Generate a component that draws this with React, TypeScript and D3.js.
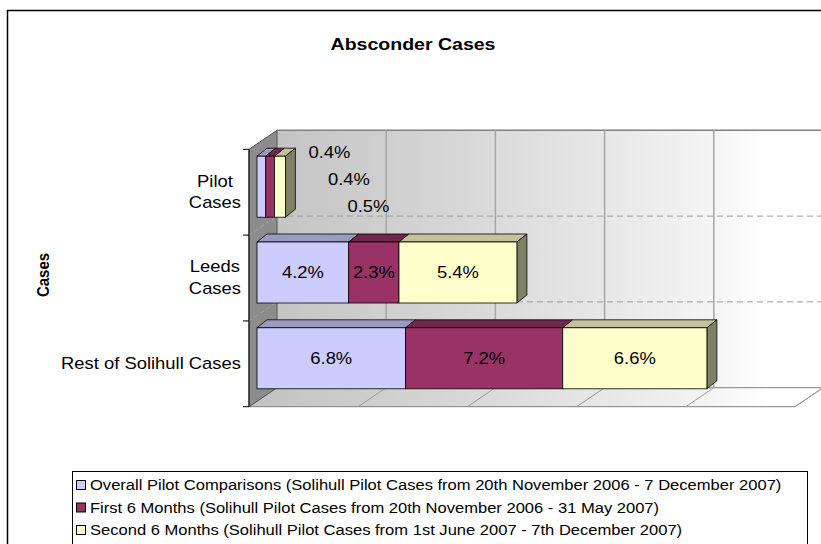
import React from "react";
import * as d3 from "d3";

const chartTitle = "Absconder Cases";
const axisTitle = "Cases";
const categories = ["Pilot Cases", "Leeds Cases", "Rest of Solihull Cases"];
const seriesNames = [
  "Overall Pilot Comparisons (Solihull Pilot Cases from 20th November 2006 - 7 December 2007)",
  "First 6 Months (Solihull Pilot Cases from 20th November 2006 - 31 May 2007)",
  "Second 6 Months (Solihull Pilot Cases from 1st June 2007 - 7th December 2007)",
];
const overallValues = [0.4, 4.2, 6.8];
const firstSixValues = [0.4, 2.3, 7.2];
const secondSixValues = [0.5, 5.4, 6.6];
const seriesColors = ["#CCCCFF", "#993366", "#FFFFCC"];
const valueDomain = [0, 25];
const valueTickCount = 5;

const W = 821;
const H = 544;
const FONT = "'Liberation Sans', Arial, Helvetica, sans-serif";
const SX = 1.15;

let mctx: CanvasRenderingContext2D | null = null;
function measure(text: string, size: number, weight = "normal") {
  if (!mctx) mctx = document.createElement("canvas").getContext("2d");
  if (!mctx) return text.length * size * 0.5 * SX;
  mctx.font = `${weight} ${size}px ${FONT}`;
  return mctx.measureText(text).width * SX;
}

function SText(props: {
  x: number; y: number; size: number; weight?: string; anchor?: string; rotate?: number; children: string;
}) {
  const { x, y, size, weight = "normal", anchor = "start", rotate, children } = props;
  return (
    <g transform={`translate(${x},${y}) scale(${SX},1)${rotate ? ` rotate(${rotate})` : ""}`}>
      <text x={0} y={0} dy="0.35em" fontSize={size} fontWeight={weight} textAnchor={anchor as any}
        fontFamily={FONT} fill="#000">{children}</text>
    </g>
  );
}

function shade(c: string, k: number) {
  const r = d3.rgb(c);
  return d3.rgb(r.r * k, r.g * k, r.b * k).formatHex();
}

export default function App() {
  const series = [overallValues, firstSixValues, secondSixValues];
  const x = d3.scaleLinear().domain(valueDomain).range([249, 795]);
  const y = d3.scaleBand<string>().domain(categories).range([149.3, 406.7]).paddingInner(0).paddingOuter(0);
  const ticks = x.ticks(valueTickCount);
  const DX = 28, DY = -19; // wall depth
  const FX = 8, FY = -5.5; // bar front-face depth offset
  const BX = 10, BY = -8; // bar depth
  const barH = y.bandwidth() * 0.711;
  const top = y.range()[0];
  const bottom = y.range()[1];
  const x0 = x(valueDomain[0]);
  const x1 = x(valueDomain[1]);

  const boundaries = categories.slice(1).map((c) => y(c)!);

  const bars = categories.map((cat, ci) => {
    const faceTop = y(cat)! + y.bandwidth() / 2 + FY - barH / 2;
    const faceBot = faceTop + barH;
    let cum = 0;
    const segs = series.map((vals, si) => {
      const v = vals[ci];
      const a = x(cum) + FX;
      cum += v;
      const b = x(cum) + FX;
      return { si, v, a, b };
    });
    const end = segs[segs.length - 1].b;
    return { cat, ci, faceTop, faceBot, segs, end };
  });

  const labelSize = 16;

  return (
    <div style={{ position: "absolute", left: 0, top: 0, width: W, height: H, overflow: "hidden", background: "#fff" }}>
      <svg width={W} height={H} style={{ display: "block" }}>
        <defs>
          <linearGradient id="wallGrad" gradientUnits="userSpaceOnUse" x1={x0} y1={0} x2={x1 + DX} y2={0}>
            <stop offset="0" stopColor="#c2c2c2" />
            <stop offset="0.2" stopColor="#cdcdcd" />
            <stop offset="0.4" stopColor="#d9d9d9" />
            <stop offset="0.6" stopColor="#e6e6e6" />
            <stop offset="0.8" stopColor="#f4f4f4" />
            <stop offset="0.9" stopColor="#ffffff" />
          </linearGradient>
        </defs>
        <rect x={0} y={0} width={W} height={H} fill="#fff" />
        <rect x={7.5} y={10.5} width={900} height={700} fill="#fff" stroke="#000" strokeWidth={1.5} />

        <SText x={413} y={44} size={17} weight="bold" anchor="middle">{chartTitle}</SText>

        {/* back wall */}
        <polygon points={`${x0 + DX},${top + DY} ${x1 + DX},${top + DY} ${x1 + DX},${bottom + DY} ${x0 + DX},${bottom + DY}`}
          fill="url(#wallGrad)" />
        {/* floor */}
        <polygon points={`${x0},${bottom} ${x1},${bottom} ${x1 + DX},${bottom + DY} ${x0 + DX},${bottom + DY}`}
          fill="url(#wallGrad)" stroke="#808080" strokeWidth={1} />
        {/* left wall */}
        <polygon points={`${x0},${top} ${x0 + DX},${top + DY} ${x0 + DX},${bottom + DY} ${x0},${bottom}`}
          fill="#8c8c8c" stroke="#555" strokeWidth={1} />
        {/* back wall top edge */}
        <line x1={x0 + DX} y1={top + DY} x2={x1 + DX} y2={top + DY} stroke="#808080" strokeWidth={1.5} />
        {/* value gridlines */}
        {ticks.slice(1).map((t) => (
          <g key={t}>
            <line x1={x(t) + DX} y1={top + DY} x2={x(t) + DX} y2={bottom + DY} stroke="#a6a6a6" strokeWidth={1.5} />
            <line x1={x(t)} y1={bottom} x2={x(t) + DX} y2={bottom + DY} stroke="#9a9a9a" strokeWidth={1} />
          </g>
        ))}
        {/* category dashed gridlines */}
        {boundaries.map((b, i) => (
          <g key={i}>
            <line x1={x0 + DX} y1={b + DY} x2={x1 + DX} y2={b + DY} stroke="#9a9a9a" strokeWidth={1} strokeDasharray="6 4" />
            <line x1={x0} y1={b} x2={x0 + DX} y2={b + DY} stroke="#a8a8a8" strokeWidth={1} strokeDasharray="4 3" />
          </g>
        ))}
        {/* category axis */}
        <line x1={x0} y1={top} x2={x0} y2={bottom} stroke="#000" strokeWidth={1} />
        {[...categories.map((c) => y(c)!), bottom].map((t, i) => (
          <line key={i} x1={x0 - 6} y1={t} x2={x0} y2={t} stroke="#000" strokeWidth={1} />
        ))}

        {/* bars */}
        {bars.map((bar) => (
          <g key={bar.cat}>
            {bar.segs.map((s, k) => {
              const col = seriesColors[s.si];
              const isLast = k === bar.segs.length - 1;
              return (
                <g key={k}>
                  <polygon points={`${s.a},${bar.faceTop} ${s.a + BX},${bar.faceTop + BY} ${s.b + BX},${bar.faceTop + BY} ${s.b},${bar.faceTop}`}
                    fill={shade(col, 0.76)} stroke="#000" strokeWidth={0.8} strokeLinejoin="round" />
                  {isLast && (
                    <polygon points={`${s.b},${bar.faceTop} ${s.b + BX},${bar.faceTop + BY} ${s.b + BX},${bar.faceBot + BY} ${s.b},${bar.faceBot}`}
                      fill={shade(col, 0.5)} stroke="#000" strokeWidth={0.8} strokeLinejoin="round" />
                  )}
                  <rect x={s.a} y={bar.faceTop} width={s.b - s.a} height={bar.faceBot - bar.faceTop}
                    fill={col} stroke="#000" strokeWidth={0.8} />
                </g>
              );
            })}
            {bar.segs.map((s, k) => {
              const txt = `${s.v.toFixed(1)}%`;
              const tw = measure(txt, labelSize);
              const fits = s.b - s.a > tw + 4;
              const lx = fits ? (s.a + s.b) / 2 : bar.end + 44 + k * 19.5;
              const ly = fits ? (bar.faceTop + bar.faceBot) / 2 : bar.faceTop - 3.4 + k * 27;
              return <SText key={"l" + k} x={lx} y={ly} size={labelSize} anchor="middle">{txt}</SText>;
            })}
          </g>
        ))}

        {/* category labels */}
        {categories.map((c) => {
          const words = c.split(" ");
          const lines = words.length === 2 ? words : [c];
          const wmax = d3.max(lines, (l) => measure(l, 16)) || 0;
          const cx = x0 - 8 - wmax / 2;
          const cy = y(c)! + y.bandwidth() / 2 - 0.5;
          const lh = 21.6;
          return (
            <g key={c}>
              {lines.map((l, i) => (
                <SText key={i} x={cx} y={cy + (i - (lines.length - 1) / 2) * lh} size={16} anchor="middle">{l}</SText>
              ))}
            </g>
          );
        })}

        <SText x={43} y={275} size={15} weight="bold" anchor="middle" rotate={-90}>{axisTitle}</SText>

        {/* legend */}
        <rect x={72.5} y={471.5} width={735} height={120} fill="#fff" stroke="#000" strokeWidth={1} />
        {seriesNames.map((n, i) => {
          const cy = 485 + i * 22.5;
          return (
            <g key={n}>
              <rect x={76.5} y={cy - 4.5} width={9} height={9} fill={seriesColors[i]} stroke="#000" strokeWidth={1} />
              <SText x={90} y={cy} size={14.4}>{n}</SText>
            </g>
          );
        })}
      </svg>
    </div>
  );
}
